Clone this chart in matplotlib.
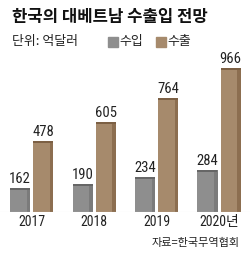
import matplotlib
matplotlib.use("Agg")
import matplotlib.pyplot as plt
import numpy as np

years = ['2017', '2018', '2019', '2020년']
imports = [162, 190, 234, 284]
exports = [478, 605, 764, 966]

gray, gray_top, gray_side = '#8e8e8e', '#666666', '#7b7b7b'
brown, brown_top, brown_side = '#a68a6c', '#7c6044', '#8c6e50'
kr = ['Noto Sans CJK KR', 'DejaVu Sans']
num = ['Roboto Condensed', 'Noto Sans CJK KR', 'DejaVu Sans']

fig = plt.figure(figsize=(2.5, 2.56), dpi=100)
ax = fig.add_axes([0, 44 / 256, 1, 149 / 256])
x = np.arange(len(years))
w = 0.32
off = 0.184
cap = 13

for vals, pos, c, ct, cs in [(imports, x - off, gray, gray_top, gray_side),
                             (exports, x + off, brown, brown_top, brown_side)]:
    vals = np.array(vals)
    ax.bar(pos, vals, width=w, color=c, linewidth=0)
    ax.bar(pos + w / 2 - 0.025, vals, width=0.05, color=cs, linewidth=0)
    ax.bar(pos, cap, bottom=vals - cap, width=w, color=ct, linewidth=0)
    for p, v in zip(pos, vals):
        ax.text(p, v + 12, str(v), ha='center', va='bottom', fontsize=10.5,
                family=num, color='#222222')

ax.axhline(0, color='#dddddd', lw=0.8)
ax.set_xlim(-0.504, 3.496)
ax.set_ylim(0, 1000)
ax.axis('off')

for xi, lab in zip(x, years):
    ax.text(xi, -18, lab, ha='center', va='top', fontsize=10, family=num,
            color='#222222')

fig.text(12 / 250, 1 - 17 / 256, '한국의 대베트남 수출입 전망', fontsize=12,
         fontweight='heavy', family=kr, va='center', ha='left', color='#111111')
fig.text(12 / 250, 1 - 42 / 256, '단위: 억달러', fontsize=9.3, family=kr,
         va='center', ha='left', color='#222222')
fig.patches.append(plt.Rectangle((108 / 250, 1 - 47 / 256), 10 / 250, 10 / 256,
                                 transform=fig.transFigure, color=gray))
fig.text(119 / 250, 1 - 42 / 256, '수입', fontsize=9.3, family=kr,
         va='center', ha='left', color='#222222')
fig.patches.append(plt.Rectangle((156 / 250, 1 - 47 / 256), 10 / 250, 10 / 256,
                                 transform=fig.transFigure, color=brown))
fig.text(167 / 250, 1 - 42 / 256, '수출', fontsize=9.3, family=kr,
         va='center', ha='left', color='#222222')
fig.text(240 / 250, 1 - 243 / 256, '자료=한국무역협회', fontsize=8, family=kr,
         va='center', ha='right', color='#222222')

fig.savefig('out.png', dpi=100)
